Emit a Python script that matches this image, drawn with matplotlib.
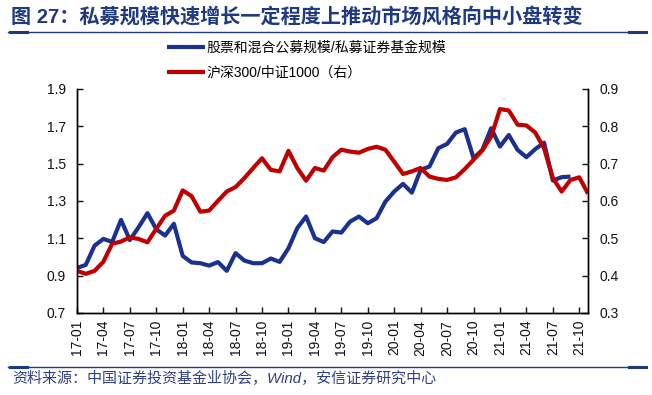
import matplotlib
matplotlib.use('Agg')
import matplotlib.pyplot as plt
from matplotlib.lines import Line2D

plt.rcParams['font.family'] = ['Liberation Sans', 'Noto Sans CJK SC', 'DejaVu Sans']

# 月份 17-01 ... 21-11
months = []
for y in range(17, 22):
    for m in range(1, 13):
        months.append('%02d-%02d' % (y, m))
months = months[:59]

# 股票和混合公募规模/私募证券基金规模（左轴），到21-09
fund_ratio = [0.94, 0.957, 1.06, 1.096, 1.08, 1.198, 1.09, 1.159, 1.234, 1.148,
              1.114, 1.177, 1.005, 0.97, 0.966, 0.953, 0.972, 0.925, 1.02, 0.98,
              0.966, 0.966, 0.991, 0.973, 1.046, 1.154, 1.216, 1.10, 1.079, 1.136,
              1.13, 1.189, 1.216, 1.18, 1.207, 1.296, 1.35, 1.391, 1.344, 1.466,
              1.484, 1.582, 1.605, 1.666, 1.684, 1.529, 1.573, 1.689, 1.591, 1.653,
              1.573, 1.534, 1.577, 1.612, 1.409, 1.427, 1.43]

# 沪深300/中证1000（右轴）
index_ratio = [0.4125, 0.4045, 0.4125, 0.437, 0.485, 0.491, 0.502, 0.498, 0.489, 0.525,
               0.56, 0.574, 0.628, 0.613, 0.571, 0.574, 0.60, 0.625, 0.637, 0.661,
               0.688, 0.714, 0.683, 0.679, 0.734, 0.688, 0.654, 0.688, 0.681, 0.717,
               0.737, 0.732, 0.729, 0.739, 0.745, 0.737, 0.705, 0.672, 0.679, 0.688,
               0.665, 0.659, 0.656, 0.663, 0.685, 0.71, 0.735, 0.772, 0.846, 0.842,
               0.804, 0.802, 0.783, 0.741, 0.661, 0.625, 0.656, 0.663, 0.619]

blue = '#1b3190'
red = '#c00000'
navy = '#1f3a80'

fig = plt.figure(figsize=(6.52, 3.95), dpi=100)
ax = fig.add_axes([0.118, 0.208, 0.784, 0.567])
ax2 = ax.twinx()

x1 = list(range(len(fund_ratio)))
x2 = list(range(len(index_ratio)))
l1, = ax.plot(x1, fund_ratio, color=blue, lw=3, solid_capstyle='butt')
l2, = ax2.plot(x2, index_ratio, color=red, lw=3, solid_capstyle='butt')

ax.set_xlim(0, 58)
ax.set_ylim(0.7, 1.9)
ax2.set_ylim(0.3, 0.9)
ax.set_yticks([0.7, 0.9, 1.1, 1.3, 1.5, 1.7, 1.9])
ax.set_yticklabels(['0.7', '0.9', '1.1', '1.3', '1.5', '1.7', '1.9'])
ax2.set_yticks([0.3, 0.4, 0.5, 0.6, 0.7, 0.8, 0.9])
ax2.set_yticklabels(['0.3', '0.4', '0.5', '0.6', '0.7', '0.8', '0.9'])
ticks = list(range(0, 58, 3))
ax.set_xticks(ticks)
ax.set_xticklabels([months[i] for i in ticks], rotation=90)

for a in (ax, ax2):
    a.spines['top'].set_visible(False)
    for s in ('left', 'right', 'bottom'):
        a.spines[s].set_linewidth(1.0)
    a.tick_params(direction='in', length=4, width=1, labelsize=10, colors='#111111')
ax.tick_params(axis='y', pad=8)
ax2.tick_params(axis='y', pad=8)
ax.tick_params(axis='x', pad=5)

fig.legend([l1, l2], ['股票和混合公募规模/私募证券基金规模', '沪深300/中证1000（右）'],
           loc='upper left', bbox_to_anchor=(167 / 652, 1 - 41 / 395),
           frameon=False, fontsize=10, handlelength=2.7, handletextpad=0.15,
           labelspacing=0.75, borderpad=0, borderaxespad=0)

# 标题和上下分隔线
fig.text(11 / 652, 1 - 17 / 395, '图 27：私募规模快速增长一定程度上推动市场风格向中小盘转变',
         fontsize=14.5, fontweight='bold', color=navy, va='center', ha='left')
for yy in (32, 367):
    fig.add_artist(Line2D([8 / 652, 646 / 652], [1 - yy / 395] * 2, color=navy, lw=1.0))
    fig.add_artist(Line2D([10 / 652, 27 / 652], [1 - yy / 395] * 2, color=navy, lw=2.2))
    fig.add_artist(Line2D([629 / 652, 646 / 652], [1 - yy / 395] * 2, color=navy, lw=2.2))
fig.text(12 / 652, 1 - 379 / 395, '资料来源：中国证券投资基金业协会，Wind，安信证券研究中心',
         fontsize=10.8, style='italic', color='#2e4080', va='center', ha='left')

fig.savefig('out.png', dpi=100)
